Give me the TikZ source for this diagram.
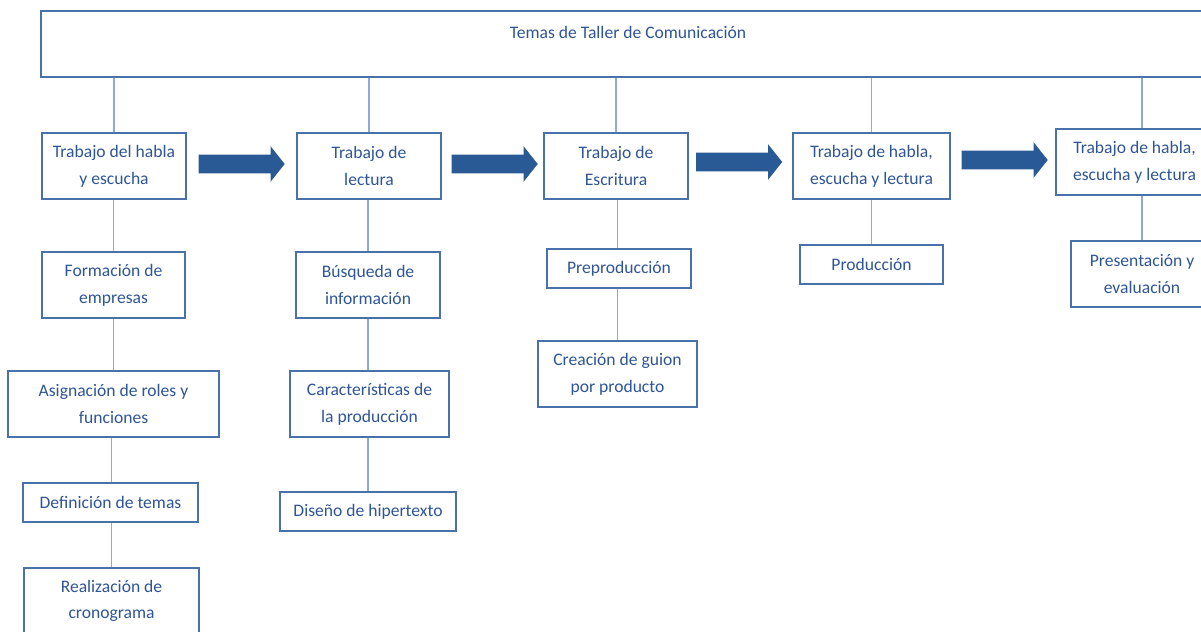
\documentclass[tikz,border=0pt]{standalone}
\usepackage{fontspec}
\setmainfont{Carlito}
\usetikzlibrary{positioning}
\usetikzlibrary{shapes.arrows}
\definecolor{borde}{HTML}{4A72AA}
\definecolor{letra}{HTML}{2F5597}
\definecolor{flecha}{HTML}{2A5A95}
\definecolor{linea}{HTML}{8FAAD6}
\begin{document}
\begin{tikzpicture}[x=0.025cm,y=-0.025cm,
  caja/.style={draw=borde,line width=0.9pt,fill=white,text=letra,align=center,inner sep=0pt,font=\fontsize{12.5}{19}\selectfont},
  tam/.style 2 args={minimum width=#1*0.025cm,minimum height=#2*0.025cm},
  paso/.style={single arrow,fill=flecha,draw=none,inner sep=0pt,text height=0.225cm,text depth=0.225cm,minimum height=86*0.025cm,single arrow head extend=8.5*0.025cm,single arrow tip angle=103},
  rama/.style={draw=linea,line width=0.8pt}]
  \useasboundingbox (0,0) rectangle (1201,631);
  \clip (0,0) rectangle (1201,631);
  \fill[white] (0,0) rectangle (1201,631);

  \node[caja,tam={1180}{66}] (tema) at (631,44) {};
  \node[text=letra,inner sep=0pt,font=\fontsize{12.5}{19}\selectfont] (titulo) at (628,32) {Temas de Taller de Comunicación};

  \node[caja,tam={144}{66}] (t1) at (114,166) {Trabajo del habla\\y escucha};
  \node[caja,tam={144}{66}] (t2) at (369,166) {Trabajo de\\lectura};
  \node[caja,tam={144}{66}] (t3) at (616,166) {Trabajo de\\Escritura};
  \node[caja,tam={157}{66}] (t4) at (871.5,166) {Trabajo de habla,\\escucha y lectura};
  \node[caja,tam={157}{66}] (t5) at (1134.5,162) {Trabajo de habla,\\escucha y lectura};

  \node[paso] (a1) at (238,164) {};
  \node[paso] (a2) at (491,164) {};
  \node[paso] (a3) at (735.5,162) {};
  \node[paso] (a4) at (1001,160) {};

  \node[caja,tam={143}{66}] (f1) at (113.5,285) {Formación de\\empresas};
  \node[caja,tam={211}{66}] (f2) at (113.5,404) {Asignación de roles y\\funciones};
  \node[caja,tam={175}{39}] (f3) at (110.5,502.5) {Definición de temas};
  \node[caja,tam={175}{66}] (f4) at (111.5,601) {Realización de\\cronograma};

  \node[caja,tam={144}{66}] (l1) at (368,285) {Búsqueda de\\información};
  \node[caja,tam={159}{66}] (l2) at (369.5,404) {Características de\\la producción};
  \node[caja,tam={176}{39}] (l3) at (368,511.5) {Diseño de hipertexto};

  \node[caja,tam={144}{39}] (e1) at (619,268.5) {Preproducción};
  \node[caja,tam={159}{66}] (e2) at (617.5,374) {Creación de guion\\por producto};

  \node[caja,tam={143}{39}] (p1) at (871.5,264.5) {Producción};

  \node[caja,tam={142}{66}] (v1) at (1142,274) {Presentación y\\evaluación};

  \draw[rama](tema.south -| t1.north)--(t1.north);
  \draw[rama](tema.south -| t2.north)--(t2.north);
  \draw[rama](tema.south -| t3.north)--(t3.north);
  \draw[rama](tema.south -| t4.north)--(t4.north);
  \draw[rama](tema.south -| v1.north)--(t5.north -| v1.north);

  \draw[rama](f1.north -| f2.north)--(f2.north |- t1.south);
  \draw[rama](f1.south -| f2.north)--(f2.north);
  \draw[rama](f2.south -| f4.north)--(f3.north -| f4.north);
  \draw[rama](f3.south -| f4.north)--(f4.north);

  \draw[rama](t2.south -| l1.north)--(l1.north);
  \draw[rama](l1.south)--(l2.north -| l1.south);
  \draw[rama](l2.south -| l3.north)--(l3.north);

  \draw[rama](t3.south -| e2.north)--(e1.north -| e2.north);
  \draw[rama](e1.south -| e2.north)--(e2.north);

  \draw[rama](t4.south)--(p1.north);
  \draw[rama](t5.south -| v1.north)--(v1.north);
\end{tikzpicture}
\end{document}
